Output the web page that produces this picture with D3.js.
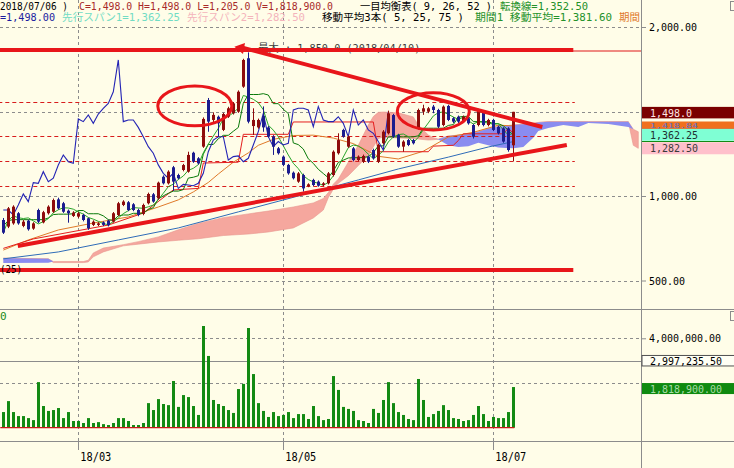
<!DOCTYPE html>
<html><head><meta charset="utf-8">
<script src="https://cdn.jsdelivr.net/npm/d3@7"></script>
<style>
html,body{margin:0;padding:0;background:#fffde8;overflow:hidden}
svg{display:block}
text{font-family:"DejaVu Sans Mono","Noto Sans CJK JP",monospace}
</style></head><body>
<svg id="c" width="734" height="468"></svg>
<script>
// ---------------- DATA ----------------
const open = [858,819,838,898,823,854,807,917,844,898, 907,980,957,913,882,878,888,868,829,829,
 844,854,848,888,947,963,951,917,894,957, 1010,986,1114,1075,1170,1124,1154,1144,1256,1223,
 1292,1568,1450,1469,1391,1469,1489,1499,1647,1815, 1414,1406,1473,1406,1351,1282,1233,1184,1138,1085,
 1124,1059,1095,1085,1065,1075,1124,1253,1391,1292, 1282,1213,1203,1233,1272,1203,1312,1371,1479,1361,
 1292,1331,1331,1400,1499,1499,1529,1509,1420,1533, 1460,1469,1440,1460,1420,1420,1499,1420,1450,1410,
 1400,1400,1300];
const high = [870,935,945,905,858,860,845,925,912,945, 985,990,965,920,910,905,895,872,856,845,
 850,860,905,965,975,970,958,925,955,1020, 1018,1085,1122,1152,1178,1132,1190,1262,1262,1230,
 1465,1580,1495,1476,1492,1528,1556,1625,1812,1850, 1519,1458,1530,1414,1360,1290,1240,1190,1145,1142,
 1132,1075,1102,1092,1082,1142,1270,1371,1398,1358, 1290,1240,1245,1240,1280,1310,1390,1505,1486,1368,
 1330,1338,1338,1517,1540,1527,1539,1516,1536,1540, 1467,1476,1476,1467,1427,1516,1506,1457,1457,1417,
 1407,1407,1498];
const low = [775,810,830,830,815,795,800,840,838,890, 900,920,900,842,876,870,850,800,822,822,
 822,820,842,880,940,910,910,880,886,950, 960,978,1068,1068,1030,1098,1146,1138,1196,1186,
 1285,1380,1430,1351,1384,1462,1482,1492,1640,1430, 1361,1398,1380,1345,1243,1245,1176,1126,1098,1078,
 1026,1052,1058,1055,1058,1068,1115,1245,1345,1285, 1205,1206,1195,1195,1215,1195,1305,1364,1344,1285,
 1262,1295,1305,1393,1480,1490,1490,1402,1412,1443, 1432,1432,1432,1422,1340,1412,1412,1412,1384,1364,
 1315,1262,1205];
const close = [783,927,937,838,848,803,838,848,904,937, 976,927,907,898,902,898,858,809,848,838,
 829,827,898,957,967,917,917,888,947,1012, 967,1079,1075,1144,1085,1105,1183,1243,1203,1193,
 1456,1440,1480,1430,1485,1519,1548,1617,1805,1440, 1450,1450,1406,1351,1292,1253,1184,1134,1105,1134,
 1045,1069,1065,1061,1075,1134,1262,1331,1351,1351, 1213,1233,1237,1203,1223,1302,1381,1489,1351,1292,
 1322,1302,1312,1509,1519,1519,1509,1410,1529,1450, 1440,1440,1469,1430,1351,1509,1420,1450,1391,1371,
 1322,1272,1498];
const volumeK = [700,1190,700,520,520,430,340,2040,970,750, 790,880,430,700,300,300,210,430,210,250,
 160,120,210,430,430,300,120,120,210,1100, 790,1280,1060,1010,2090,930,1460,1370,970,570,
 4550,3210,1240,1060,970,790,660,1730,1960,4460, 2400,1100,750,480,700,520,570,700,430,610,
 610,390,970,520,340,390,2310,1690,930,840, 750,340,300,210,840,660,1240,2040,1100,700,
 570,390,340,2180,1240,480,610,750,1010,790, 430,390,300,340,570,970,610,300,480,430,
 430,700,1818.9];

// x-axis month ticks (bar number -> label)
const tickBars = [16, 57, 99];
const tickLabels = ["18/03", "18/05", "18/07"];
const priceTicks = [500, 1000, 2000];
const priceGrid = [500, 1000, 1500, 2000];
const volTicks = [2000000, 4000000];
const volAvg = 2997235.5;

// indicator lines: [bar, price]
const ma75Pts = [[1,628],[12,669],[24,740],[36,811],[48,906],[60,1000],[72,1095],[80,1160],[90,1230],[98,1290],[103,1322]];
const ma25Pts = [[1,680],[6,740],[12,799],[19,840],[26,876],[32,935],[36,977],[39,1024],[42,1080],[44,1130],[47,1200],
 [50,1255],[52,1300],[55,1335],[59,1358],[63,1360],[67,1343],[71,1310],[76,1235],[80,1219],[85,1265],[90,1349],[95,1377],[100,1419],[103,1415]];
const kijunPts = [[1,690],[7,746],[22,828],[29,899],[35,1036],[40,1045],[41,1195],[48,1200],[49,1365],[58,1365],[59,1438],
 [75,1438],[76,1262],[86,1262],[87,1295],[91,1300],[92,1328],[93,1368],[101,1368],[102,1401],[103,1372]];
// ichimoku cloud (leading spans, plotted ahead)
const cloudBar = [1,10,11,17,18,19,21,25,28,32,36,40,45,50,54,59,63,65,66,67,68,70,72,74,75,76,77,80,83,84,86,87,88,
 90,92,94,96,98,100,103,105,107,108,110,113,116,118,122,126,127,128];
const span1 = [632,628,606,606,610,640,669,705,715,728,738,747,766,775,787,811,870,917,990,1040,1075,1120,1180,1240,1290,1340,1349,1343,1340,1337,1331,1333,1336,
 1355,1360,1365,1380,1400,1410,1420,1425,1430,1435,1440,1440,1440,1440,1440,1440,1300,1282];
const span2 = [603,605,612,612,620,663,692,712,730,758,800,838,872,894,911,935,959,985,1020,1070,1100,1200,1300,1420,1470,1495,1497,1492,1468,1420,1361,1345,1335,
 1300,1290,1295,1315,1300,1287,1282,1290,1345,1385,1402,1420,1408,1432,1426,1408,1395,1380];

// hand-drawn annotations (bar, price)
const flatLines = [1864, 562];
const dashedLevels = [1556, 1355, 1207, 1059];
const downTrend = [[48.3,1882],[108.8,1408]];
const upTrend = [[3.9,704],[113.7,1302]];
const ellipses = [{bar:39.3, price:1533, db:7.4, dp:118}, {bar:87.0, price:1501, db:7.2, dp:110}];
const maxPrice = 1850.0, maxDate = "2018/04/10";
const lastClose = 1498.0, ma25Label = 1418.84, span1Last = 1362.25, span2Last = 1282.50, lastVol = 1818900;

// ---------------- DRAW ----------------
const W = 734, H = 468, AX = 641, PB = 309, VB = 441;
const svg = d3.select("#c");
const x = d3.scaleLinear().domain([1, 103]).range([3.3, 513.3]);
const yP = d3.scaleLinear().domain([500, 2000]).range([280.5, 27]);
const yV = d3.scaleLinear().domain([0, 4000000]).range([427.7, 338.3]);
const bars = open.map((o, k) => ({i: k + 1, o, h: high[k], l: low[k], c: close[k], v: volumeK[k] * 1000}));

svg.append("rect").attr("width", W).attr("height", H).attr("fill", "#fffde8");
const defs = svg.append("defs");
defs.append("clipPath").attr("id", "cp").append("rect").attr("x", 0).attr("y", 0).attr("width", AX).attr("height", PB);
defs.append("clipPath").attr("id", "cv").append("rect").attr("x", 0).attr("y", PB).attr("width", AX).attr("height", VB - PB);

const crisp = v => Math.round(v) + 0.5;

// grid
const grid = svg.append("g").attr("stroke", "#8c8c8c").attr("stroke-width", 1).attr("stroke-dasharray", "3,3");
grid.selectAll("line.hp").data(priceGrid).join("line")
  .attr("x1", 0).attr("x2", AX).attr("y1", d => crisp(yP(d))).attr("y2", d => crisp(yP(d)));
grid.selectAll("line.hv").data(volTicks).join("line").attr("class", "hv")
  .attr("x1", 0).attr("x2", AX).attr("y1", d => crisp(yV(d))).attr("y2", d => crisp(yV(d)));
grid.selectAll("line.vx").data(tickBars).join("line").attr("class", "vx")
  .attr("x1", d => crisp(x(d))).attr("x2", d => crisp(x(d))).attr("y1", 0).attr("y2", VB);
svg.append("line").attr("x1", 0).attr("x2", AX).attr("y1", crisp(yV(volAvg))).attr("y2", crisp(yV(volAvg)))
  .attr("stroke", "#8c8c8c");

// panel frame
const frame = svg.append("g").attr("stroke", "#8c8c8c").attr("stroke-width", 1);
frame.append("line").attr("x1", 0).attr("x2", W).attr("y1", PB + 0.5).attr("y2", PB + 0.5);
frame.append("line").attr("x1", 0).attr("x2", W).attr("y1", VB + 0.5).attr("y2", VB + 0.5);
frame.append("line").attr("x1", AX + 0.5).attr("x2", AX + 0.5).attr("y1", 0).attr("y2", H);
frame.selectAll("line.tk").data(tickBars).join("line").attr("class", "tk")
  .attr("x1", d => crisp(x(d))).attr("x2", d => crisp(x(d))).attr("y1", VB).attr("y2", VB + 9);
frame.append("rect").attr("x", 730.5).attr("y", 1.5).attr("width", 9).attr("height", 9).attr("fill", "none");
frame.append("rect").attr("x", 730.5).attr("y", 311.5).attr("width", 9).attr("height", 9).attr("fill", "none");

// ---- price panel ----
const gp = svg.append("g").attr("clip-path", "url(#cp)");
const idx = d3.range(cloudBar.length);
gp.append("path").attr("fill", "#f5a79e").attr("stroke", "#e8968e").attr("stroke-width", 0.6)
  .attr("d", d3.area().x(k => x(cloudBar[k])).y0(k => yP(span1[k])).y1(k => yP(Math.max(span1[k], span2[k])))(idx));
gp.append("path").attr("fill", "#8a8cf0")
  .attr("d", d3.area().x(k => x(cloudBar[k])).y0(k => yP(span2[k])).y1(k => yP(Math.max(span1[k], span2[k])))(idx));

// user dashed levels
gp.selectAll("line.dl").data(dashedLevels).join("line").attr("class", "dl")
  .attr("x1", x(0)).attr("x2", x(115.3)).attr("y1", d => crisp(yP(d))).attr("y2", d => crisp(yP(d)))
  .attr("stroke", "#d81c1c").attr("stroke-width", 1.2).attr("stroke-dasharray", "4,3");

const line = d3.line().x(d => x(d[0])).y(d => yP(d[1]));
const ma5 = close.map((c, k) => [k + 1, d3.mean(close.slice(Math.max(0, k - 4), k + 1))]);
const tenkan = close.map((c, k) => [k + 1, (d3.max(high.slice(Math.max(0, k - 8), k + 1)) + d3.min(low.slice(Math.max(0, k - 8), k + 1))) / 2]);
const chikou = close.slice(25).map((c, k) => [k + 1, c]);

const drawLine = (pts, col, w) => gp.append("path").attr("fill", "none").attr("stroke", col).attr("stroke-width", w).attr("d", line(pts));
drawLine(ma75Pts, "#2f6cb8", 1);
drawLine(ma25Pts, "#e07a2a", 1);
drawLine(kijunPts, "#e41e1e", 1);
drawLine(tenkan, "#0a7a0a", 1);
drawLine(ma5, "#2aa52a", 1);
drawLine(chikou, "#2424b4", 1.1);

// candles
const upC = "#8e0c0c", dnC = "#1c1c8e";
const cg = gp.append("g");
cg.selectAll("line").data(bars).join("line")
  .attr("x1", d => crisp(x(d.i))).attr("x2", d => crisp(x(d.i)))
  .attr("y1", d => yP(d.h)).attr("y2", d => yP(d.l))
  .attr("stroke", d => d.c >= d.o ? upC : dnC);
cg.selectAll("rect").data(bars).join("rect")
  .attr("x", d => Math.round(x(d.i)) - 1).attr("width", 3)
  .attr("y", d => yP(Math.max(d.o, d.c)))
  .attr("height", d => Math.max(1.5, Math.abs(yP(d.o) - yP(d.c))))
  .attr("fill", d => d.c >= d.o ? upC : dnC);

// max label
gp.append("text").attr("x", x(52)).attr("y", yP(maxPrice) - 0.5).attr("font-size", 11).attr("fill", "#3a3a3a")
  .attr("textLength", 162).attr("lengthAdjust", "spacingAndGlyphs")
  .text("最大 : " + d3.format(",.1f")(maxPrice) + " (" + maxDate + ")");
// thin max line
gp.append("line").attr("x1", x(50)).attr("x2", AX).attr("y1", yP(1858)).attr("y2", yP(1858)).attr("stroke", "#e01818").attr("stroke-width", 1.2);

// annotations
const red = "#e8161a";
gp.selectAll("line.fl").data(flatLines).join("line").attr("class", "fl")
  .attr("x1", x(0)).attr("x2", x(115)).attr("y1", d => yP(d)).attr("y2", d => yP(d))
  .attr("stroke", red).attr("stroke-width", 4);
gp.append("path").attr("fill", "none").attr("stroke", red).attr("stroke-width", 4).attr("d", line(downTrend));
gp.append("path").attr("fill", "none").attr("stroke", red).attr("stroke-width", 4).attr("d", line(upTrend));
gp.append("path").attr("d", d3.symbol().type(d3.symbolTriangle).size(55)())
  .attr("transform", `translate(${x(downTrend[0][0]) + 1},${yP(downTrend[0][1]) + 1}) rotate(-80)`).attr("fill", red);
gp.selectAll("ellipse").data(ellipses).join("ellipse")
  .attr("cx", d => x(d.bar)).attr("cy", d => yP(d.price))
  .attr("rx", d => x(d.bar + d.db) - x(d.bar)).attr("ry", d => yP(d.price - d.dp) - yP(d.price))
  .attr("fill", "none").attr("stroke", red).attr("stroke-width", 3);
svg.append("text").attr("x", 0).attr("y", yP(562) + 2.5).attr("font-size", 11).attr("fill", "#000")
  .attr("textLength", 22).attr("lengthAdjust", "spacingAndGlyphs").text("(25)");

// ---- volume panel ----
const gv = svg.append("g").attr("clip-path", "url(#cv)");
gv.selectAll("rect").data(bars).join("rect")
  .attr("x", d => Math.round(x(d.i)) - 1).attr("width", 3)
  .attr("y", d => yV(d.v)).attr("height", d => yV(0) - yV(d.v)).attr("fill", "#138a13");
gv.append("line").attr("x1", x(1) - 3).attr("x2", x(103) + 1).attr("y1", yV(0)).attr("y2", yV(0)).attr("stroke", "#c81818").attr("stroke-width", 1.2);
svg.append("text").attr("x", 0).attr("y", 320).attr("font-size", 11).attr("fill", "#1a8a1a").text("0");

// ---- axes ----
const fmt2 = d3.format(",.2f");
const fixText = sel => sel.selectAll("text").attr("font-size", 11).attr("fill", "#000")
  .attr("textLength", function () { return this.textContent.length * 6; }).attr("lengthAdjust", "spacingAndGlyphs");
const ap = svg.append("g").attr("transform", `translate(${AX},0)`)
  .call(d3.axisRight(yP).tickValues(priceTicks).tickFormat(fmt2).tickSize(5).tickPadding(3));
ap.select(".domain").remove(); ap.selectAll("line").attr("stroke", "#8c8c8c"); fixText(ap);
const av = svg.append("g").attr("transform", `translate(${AX},0)`)
  .call(d3.axisRight(yV).tickValues(volTicks).tickFormat(fmt2).tickSize(5).tickPadding(3));
av.select(".domain").remove(); av.selectAll("line").attr("stroke", "#8c8c8c"); fixText(av);
// the 2,000,000 label sits behind the last-volume box in the reference
av.selectAll(".tick").filter(d => d === 2000000).select("text").remove();

const ax = svg.append("g").attr("transform", `translate(0,${VB})`)
  .call(d3.axisBottom(x).tickValues(tickBars).tickFormat((d, k) => tickLabels[k]).tickSize(0).tickPadding(11));
ax.select(".domain").remove();
ax.selectAll("text").attr("font-size", 12).attr("fill", "#000").attr("text-anchor", "start").attr("dx", 1.5)
  .attr("textLength", 31).attr("lengthAdjust", "spacingAndGlyphs");

// value boxes on the right
const box = (yc, h, bg, stroke, txtv, fg, fs) => {
  svg.append("rect").attr("x", AX + 1).attr("y", yc - h / 2).attr("width", W - AX).attr("height", h)
    .attr("fill", bg).attr("stroke", stroke || "none");
  const s = fs || 11;
  svg.append("text").attr("x", 650).attr("y", yc + s * 0.36).attr("font-size", s).attr("fill", fg)
    .attr("textLength", txtv.length * 6).attr("lengthAdjust", "spacingAndGlyphs").text(txtv);
};
box(yP(lastClose) + 0.8, 11.5, "#7a0000", null, d3.format(",.1f")(lastClose), "#ffe6e6");
box(125.5, 8, "#f0701e", null, fmt2(ma25Label), "#5a70c8", 7);
svg.append("line").attr("x1", AX + 1).attr("x2", W).attr("y1", 129.5).attr("y2", 129.5).attr("stroke", "#e01010").attr("stroke-width", 1.5);
box(yP(span1Last), 12, "#7fffd4", null, fmt2(span1Last), "#1e3030");
svg.append("line").attr("x1", AX + 1).attr("x2", W).attr("y1", 141.5).attr("y2", 141.5).attr("stroke", "#138a13");
box(yP(span2Last), 12, "#ffc0cb", null, fmt2(span2Last), "#3a3a3a");
box(yV(volAvg), 10.5, "#fffff4", "#505050", fmt2(volAvg), "#000");
box(yV(lastVol) + 1.5, 11, "#0f8a0f", null, fmt2(lastVol), "#a8dca8");

// ---- header ----
const hg = svg.append("g").attr("font-size", 10.5);
const seg = (s, x0, len, y, col) => hg.append("text").attr("x", x0).attr("y", y).attr("fill", col)
  .attr("textLength", len).attr("lengthAdjust", "spacingAndGlyphs").text(s);
const f1 = d3.format(",.1f");
seg("2018/07/06 )", 0, 68, 9.5, "#000");
seg(`C=${f1(close[102])} H=${f1(high[102])} L=${f1(low[102])} V=${f1(lastVol)}`, 79, 254, 9.5, "#a82a2a");
seg("一目均衡表( 9, 26, 52 )", 360, 132, 9.5, "#000");
seg("転換線=1,352.50", 500, 88, 9.5, "#23912a");
seg("=" + fmt2(lastClose), 0, 55, 21, "#1c1ca0");
seg("先行スパン1=" + fmt2(span1Last), 62, 118, 21, "#72dcc4");
seg("先行スパン2=" + fmt2(span2Last), 187, 118, 21, "#f4b4bc");
seg("移動平均3本( 5, 25, 75 )", 322, 142, 21, "#000");
seg("期間1 移動平均=1,381.60", 475, 137, 21, "#23912a");
seg("期間", 619, 21, 21, "#e0782a");
</script>
</body></html>
